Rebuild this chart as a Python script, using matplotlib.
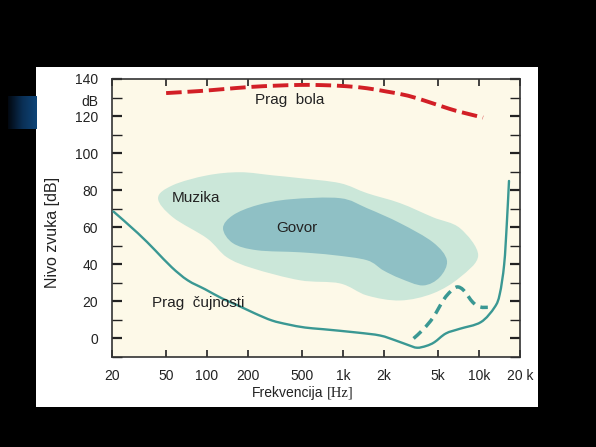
import numpy as np
import matplotlib
matplotlib.use("Agg")
import matplotlib.pyplot as plt
from matplotlib.path import Path
from matplotlib.patches import PathPatch
from matplotlib.colors import LinearSegmentedColormap

plt.rcParams['font.family'] = ['Liberation Sans', 'DejaVu Sans']

# ---- data ----
thr_f = [20.5, 31, 41.5, 55, 72, 97, 129, 169, 225, 300, 392, 525, 713, 1265,
         1870, 2440, 3000, 3500, 4100, 4700, 5700, 7200, 10300, 13000, 14200,
         15300, 16000, 16600]
thr_db = [68.5, 56.8, 47.6, 38.4, 31.4, 26.5, 21.6, 17.8, 13.5, 9.7, 7.6, 5.9,
          5.0, 3.2, 1.6, -1.1, -3.5, -5.0, -4.0, -2.0, 2.7, 5.2, 8.8, 16.8, 24,
          40, 62, 85]

dash_f = [3300, 3900, 4600, 5500, 6200, 6900, 7700, 9000, 10200, 11600]
dash_db = [0, 5, 11.4, 21, 25.5, 27.8, 26, 19.5, 17, 16.8]

pain_f = [50, 88, 130, 207, 320, 484, 700, 1060, 1500, 2100, 3000, 4300, 6000,
          7500, 10700]
pain_db = [132.4, 133.5, 134.5, 135.7, 136.4, 136.8, 136.7, 136.1, 135, 133.2,
           131, 127.5, 124, 122, 119.2]

music_f = [43.6, 56, 100, 175, 305, 482, 950, 1500, 2630, 4580, 7240, 9850,
           7240, 4580, 2630, 1500, 950, 482, 218, 140, 100, 56]
music_db = [75.7, 82.7, 88, 89.7, 88, 86.5, 83.8, 78.4, 73, 65.4, 59.5, 44.9,
            33, 24.3, 20.5, 23.2, 29.7, 31.4, 37.8, 43.8, 54, 65.4]

speech_f = [131, 155, 233, 408, 950, 1500, 2630, 4580, 5800, 5130, 3860, 2630,
            1970, 1500, 845, 482, 233, 155]
speech_db = [59.5, 66.5, 71.9, 75.1, 75.7, 70.3, 62.2, 51.9, 42.2, 33, 28.6,
             32.4, 36.8, 42.2, 45, 46.5, 47.6, 51.4]

xticks = [20, 50, 100, 200, 500, 1000, 2000, 5000, 10000, 20000]
xticklabels = ['20', '50', '100', '200', '500', '1k', '2k', '5k', '10k', '20 k']
yticks = [0, 20, 40, 60, 80, 100, 120, 140]


def smooth_path(fs, dbs, closed=False):
    """Catmull-Rom through the read points, expressed as cubic Bezier path."""
    p = np.column_stack([np.log10(fs), dbs]).astype(float)
    n = len(p)
    if closed:
        get = lambda i: p[i % n]
        segs = n
    else:
        get = lambda i: p[min(max(i, 0), n - 1)]
        segs = n - 1
    verts = [get(0)]
    codes = [Path.MOVETO]
    for i in range(segs):
        p0, p1, p2, p3 = get(i - 1), get(i), get(i + 1), get(i + 2)
        c1 = p1 + (p2 - p0) / 6.0
        c2 = p2 - (p3 - p1) / 6.0
        verts += [c1, c2, p2]
        codes += [Path.CURVE4] * 3
    if closed:
        verts.append(get(0))
        codes.append(Path.CLOSEPOLY)
    v = np.array(verts)
    v[:, 0] = 10 ** v[:, 0]
    return Path(v, codes)


# ---- figure ----
W, H = 596, 447
fig = plt.figure(figsize=(W / 100, H / 100), dpi=100, facecolor='black')

# white panel
pax = fig.add_axes([36 / W, (H - 407) / H, 502 / W, 340 / H])
pax.set_facecolor('white')
pax.set_xticks([])
pax.set_yticks([])
for s in pax.spines.values():
    s.set_visible(False)

# blue gradient block on the left
gax = fig.add_axes([8 / W, (H - 129) / H, 29 / W, 33 / H])
cmap = LinearSegmentedColormap.from_list('b', ['#020810', '#0a2f55', '#0e4578'])
gax.imshow(np.linspace(0, 1, 64)[None, :], aspect='auto', cmap=cmap)
gax.axis('off')

ax = fig.add_axes([112 / W, (H - 357) / H, 408 / W, 278 / H])
ax.set_facecolor('#fdf9e8')
ax.set_xscale('log')
ax.set_xlim(20, 20000)
ax.set_ylim(-10, 140)

ax.add_patch(PathPatch(smooth_path(music_f, music_db, closed=True),
                       facecolor='#cbe7d9', edgecolor='none', zorder=1))
ax.add_patch(PathPatch(smooth_path(speech_f, speech_db, closed=True),
                       facecolor='#8fc0c5', edgecolor='none', zorder=2))

teal = '#3a9893'
ax.add_patch(PathPatch(smooth_path(thr_f, thr_db), fill=False, edgecolor=teal,
                       lw=1.7, zorder=3, capstyle='round', joinstyle='round'))
ax.add_patch(PathPatch(smooth_path(dash_f, dash_db), fill=False, edgecolor=teal,
                       lw=2.5, ls=(0, (3, 1.8)), zorder=3))
ax.add_patch(PathPatch(smooth_path(pain_f, pain_db), fill=False, edgecolor='#d21f26',
                       lw=2.8, ls=(0, (4.0, 1.5)), zorder=3))

ax.text(408, 128.6, 'Prag  bola', fontsize=11, ha='center', va='center', color='#222222')
ax.text(83, 75.7, 'Muzika', fontsize=11, ha='center', va='center', color='#222222')
ax.text(458, 59.5, 'Govor', fontsize=11, ha='center', va='center', color='#222222')
ax.text(86, 18.9, 'Prag  čujnosti', fontsize=11, ha='center', va='center', color='#222222')

ax.set_xticks(xticks)
ax.set_xticklabels(xticklabels)
ax.xaxis.set_minor_locator(matplotlib.ticker.NullLocator())
ax.set_yticks(yticks)
ax.set_yticks(np.arange(-10, 141, 10), minor=True)
ax.tick_params(axis='both', which='both', direction='in', top=True, right=True,
               labelsize=10, colors='#222222')
ax.tick_params(axis='y', which='major', length=7, width=1.6, pad=10)
ax.tick_params(axis='y', which='minor', length=7, width=1.0)
ax.tick_params(axis='x', which='major', length=5, width=1.2, pad=9)
for s in ax.spines.values():
    s.set_color('#333333')
    s.set_linewidth(1.2)

fig.text(98 / W, (H - 102) / H, 'dB', fontsize=10, ha='right', va='center', color='#222222')
fig.text(323 / W, (H - 393) / H, 'Frekvencija', fontsize=10, ha='right',
         va='center', color='#222222')
fig.text(327 / W, (H - 393) / H, '[Hz]', fontsize=10.5, ha='left',
         va='center', color='#222222', family=['Liberation Serif', 'DejaVu Serif'])
fig.text(53 / W, (H - 232) / H, 'Nivo zvuka [dB]', fontsize=11.5, ha='center',
         va='center', rotation=90, color='#222222')

fig.savefig('out.png', dpi=100, facecolor='black')
